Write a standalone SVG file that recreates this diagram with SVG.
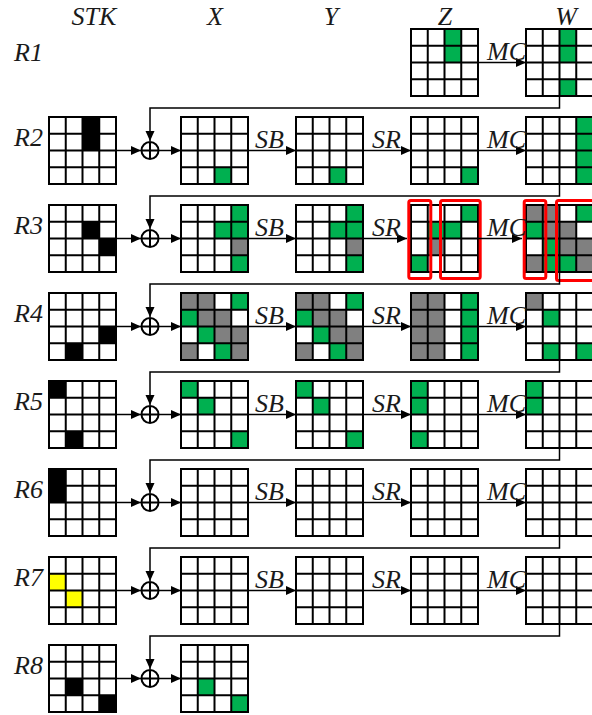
<svg xmlns="http://www.w3.org/2000/svg" width="592" height="715" viewBox="0 0 592 715">
<style>
.gl{fill:none;stroke:#000;stroke-width:2}
.g{fill:#00b050}.k{fill:#000}.s{fill:#808080}.y{fill:#ffff00}
.ln{fill:none;stroke:#000;stroke-width:1.5}
.ar{marker-end:url(#ah)}
.lab{fill:#1a1a1a}
.red{fill:none;stroke:#ff0000;stroke-width:3}
</style>
<defs>
<path id="grid" class="gl" d="M0,0H67V67H0Z M16.75,0V67 M33.5,0V67 M50.25,0V67 M0,16.75H67 M0,33.5H67 M0,50.25H67"/>
<marker id="ah" markerUnits="userSpaceOnUse" markerWidth="11" markerHeight="10" refX="10" refY="4.5" orient="auto"><path d="M0,0L10,4.5L0,9Z" fill="#000"/></marker>
</defs>
<rect width="592" height="715" fill="#fff"/>

<g id="headers" class="lab" text-anchor="middle">
<text x="94" y="25" font-family="Liberation Serif" font-style="italic" font-size="26">STK</text>
<text x="215" y="25" font-family="Liberation Serif" font-style="italic" font-size="26">X</text>
<text x="331" y="25" font-family="Liberation Serif" font-style="italic" font-size="26">Y</text>
<text x="445" y="25" font-family="Liberation Serif" font-style="italic" font-size="26">Z</text>
<text x="566" y="25" font-family="Liberation Serif" font-style="italic" font-size="26">W</text>
</g>
<g id="rowlabels" class="lab" text-anchor="end">
<text x="43" y="61" font-family="Liberation Serif" font-style="italic" font-size="26">R1</text>
<text x="43" y="146" font-family="Liberation Serif" font-style="italic" font-size="26">R2</text>
<text x="43" y="234" font-family="Liberation Serif" font-style="italic" font-size="26">R3</text>
<text x="43" y="322" font-family="Liberation Serif" font-style="italic" font-size="26">R4</text>
<text x="43" y="410" font-family="Liberation Serif" font-style="italic" font-size="26">R5</text>
<text x="43" y="498" font-family="Liberation Serif" font-style="italic" font-size="26">R6</text>
<text x="43" y="586" font-family="Liberation Serif" font-style="italic" font-size="26">R7</text>
<text x="43" y="674" font-family="Liberation Serif" font-style="italic" font-size="26">R8</text>
</g>

<!-- R1 -->
<g id="r1-z" transform="translate(411,29)"><rect class="g" x="33.5" y="0" width="16.75" height="33.5"/><use href="#grid"/></g>
<g id="r1-w" transform="translate(526,29)"><rect class="g" x="33.5" y="0" width="16.75" height="33.5"/><rect class="g" x="33.5" y="50.25" width="16.75" height="16.75"/><use href="#grid"/></g>

<!-- R2 -->
<g id="r2-stk" transform="translate(49,117)"><rect class="k" x="33.5" y="0" width="16.75" height="33.5"/><use href="#grid"/></g>
<g id="r2-x" transform="translate(181,117)"><rect class="g" x="33.5" y="50.25" width="16.75" height="16.75"/><use href="#grid"/></g>
<g id="r2-y" transform="translate(296,117)"><rect class="g" x="33.5" y="50.25" width="16.75" height="16.75"/><use href="#grid"/></g>
<g id="r2-z" transform="translate(411,117)"><rect class="g" x="50.25" y="50.25" width="16.75" height="16.75"/><use href="#grid"/></g>
<g id="r2-w" transform="translate(526,117)"><rect class="g" x="50.25" y="0" width="16.75" height="67"/><use href="#grid"/></g>

<!-- R3 -->
<g id="r3-stk" transform="translate(49,205)"><rect class="k" x="33.5" y="16.75" width="16.75" height="16.75"/><rect class="k" x="50.25" y="33.5" width="16.75" height="16.75"/><use href="#grid"/></g>
<g id="r3-x" transform="translate(181,205)"><rect class="g" x="50.25" y="0" width="16.75" height="33.5"/><rect class="g" x="33.5" y="16.75" width="16.75" height="16.75"/><rect class="s" x="50.25" y="33.5" width="16.75" height="16.75"/><rect class="g" x="50.25" y="50.25" width="16.75" height="16.75"/><use href="#grid"/></g>
<g id="r3-y" transform="translate(296,205)"><rect class="g" x="50.25" y="0" width="16.75" height="33.5"/><rect class="g" x="33.5" y="16.75" width="16.75" height="16.75"/><rect class="s" x="50.25" y="33.5" width="16.75" height="16.75"/><rect class="g" x="50.25" y="50.25" width="16.75" height="16.75"/><use href="#grid"/></g>
<g id="r3-z" transform="translate(411,205)"><rect class="g" x="50.25" y="0" width="16.75" height="16.75"/><rect class="g" x="16.75" y="16.75" width="33.5" height="16.75"/><rect class="s" x="16.75" y="33.5" width="16.75" height="16.75"/><rect class="g" x="0" y="50.25" width="16.75" height="16.75"/><use href="#grid"/></g>
<g id="r3-w" transform="translate(526,205)">
<rect class="s" x="0" y="0" width="33.5" height="16.75"/><rect class="g" x="50.25" y="0" width="16.75" height="16.75"/>
<rect class="g" x="0" y="16.75" width="16.75" height="16.75"/><rect class="s" x="16.75" y="16.75" width="33.5" height="16.75"/>
<rect class="g" x="16.75" y="33.5" width="16.75" height="16.75"/><rect class="s" x="33.5" y="33.5" width="33.5" height="16.75"/>
<rect class="s" x="0" y="50.25" width="16.75" height="16.75"/><rect class="g" x="16.75" y="50.25" width="33.5" height="16.75"/><rect class="s" x="50.25" y="50.25" width="16.75" height="16.75"/>
<use href="#grid"/></g>
<g id="r3-marks">
<rect class="red" x="408.8" y="200.5" width="22" height="78" rx="2"/>
<rect class="red" x="440.5" y="200.5" width="39.7" height="78" rx="2"/>
<rect class="red" x="524.2" y="200.5" width="21.6" height="78" rx="2"/>
<rect class="red" x="556.5" y="200.5" width="50" height="80" rx="2"/>
</g>

<!-- R4 -->
<g id="r4-stk" transform="translate(49,293)"><rect class="k" x="50.25" y="33.5" width="16.75" height="16.75"/><rect class="k" x="16.75" y="50.25" width="16.75" height="16.75"/><use href="#grid"/></g>
<g id="r4-x" transform="translate(181,293)">
<rect class="s" x="0" y="0" width="33.5" height="16.75"/><rect class="g" x="50.25" y="0" width="16.75" height="16.75"/>
<rect class="g" x="0" y="16.75" width="16.75" height="16.75"/><rect class="s" x="16.75" y="16.75" width="33.5" height="16.75"/>
<rect class="g" x="16.75" y="33.5" width="16.75" height="16.75"/><rect class="s" x="33.5" y="33.5" width="33.5" height="16.75"/>
<rect class="s" x="0" y="50.25" width="16.75" height="16.75"/><rect class="g" x="33.5" y="50.25" width="16.75" height="16.75"/><rect class="s" x="50.25" y="50.25" width="16.75" height="16.75"/>
<use href="#grid"/></g>
<g id="r4-y" transform="translate(296,293)">
<rect class="s" x="0" y="0" width="33.5" height="16.75"/><rect class="g" x="50.25" y="0" width="16.75" height="16.75"/>
<rect class="g" x="0" y="16.75" width="16.75" height="16.75"/><rect class="s" x="16.75" y="16.75" width="33.5" height="16.75"/>
<rect class="g" x="16.75" y="33.5" width="16.75" height="16.75"/><rect class="s" x="33.5" y="33.5" width="33.5" height="16.75"/>
<rect class="s" x="0" y="50.25" width="16.75" height="16.75"/><rect class="g" x="33.5" y="50.25" width="16.75" height="16.75"/><rect class="s" x="50.25" y="50.25" width="16.75" height="16.75"/>
<use href="#grid"/></g>
<g id="r4-z" transform="translate(411,293)"><rect class="s" x="0" y="0" width="33.5" height="67"/><rect class="g" x="50.25" y="0" width="16.75" height="67"/><use href="#grid"/></g>
<g id="r4-w" transform="translate(526,293)"><rect class="s" x="0" y="0" width="16.75" height="16.75"/><rect class="g" x="16.75" y="16.75" width="16.75" height="16.75"/><rect class="g" x="16.75" y="50.25" width="16.75" height="16.75"/><rect class="g" x="50.25" y="50.25" width="16.75" height="16.75"/><use href="#grid"/></g>

<!-- R5 -->
<g id="r5-stk" transform="translate(49,381)"><rect class="k" x="0" y="0" width="16.75" height="16.75"/><rect class="k" x="16.75" y="50.25" width="16.75" height="16.75"/><use href="#grid"/></g>
<g id="r5-x" transform="translate(181,381)"><rect class="g" x="0" y="0" width="16.75" height="16.75"/><rect class="g" x="16.75" y="16.75" width="16.75" height="16.75"/><rect class="g" x="50.25" y="50.25" width="16.75" height="16.75"/><use href="#grid"/></g>
<g id="r5-y" transform="translate(296,381)"><rect class="g" x="0" y="0" width="16.75" height="16.75"/><rect class="g" x="16.75" y="16.75" width="16.75" height="16.75"/><rect class="g" x="50.25" y="50.25" width="16.75" height="16.75"/><use href="#grid"/></g>
<g id="r5-z" transform="translate(411,381)"><rect class="g" x="0" y="0" width="16.75" height="33.5"/><rect class="g" x="0" y="50.25" width="16.75" height="16.75"/><use href="#grid"/></g>
<g id="r5-w" transform="translate(526,381)"><rect class="g" x="0" y="0" width="16.75" height="33.5"/><use href="#grid"/></g>

<!-- R6 -->
<g id="r6-stk" transform="translate(49,469)"><rect class="k" x="0" y="0" width="16.75" height="33.5"/><use href="#grid"/></g>
<g id="r6-x" transform="translate(181,469)"><use href="#grid"/></g>
<g id="r6-y" transform="translate(296,469)"><use href="#grid"/></g>
<g id="r6-z" transform="translate(411,469)"><use href="#grid"/></g>
<g id="r6-w" transform="translate(526,469)"><use href="#grid"/></g>

<!-- R7 -->
<g id="r7-stk" transform="translate(49,557)"><rect class="y" x="0" y="16.75" width="16.75" height="16.75"/><rect class="y" x="16.75" y="33.5" width="16.75" height="16.75"/><use href="#grid"/></g>
<g id="r7-x" transform="translate(181,557)"><use href="#grid"/></g>
<g id="r7-y" transform="translate(296,557)"><use href="#grid"/></g>
<g id="r7-z" transform="translate(411,557)"><use href="#grid"/></g>
<g id="r7-w" transform="translate(526,557)"><use href="#grid"/></g>

<!-- R8 -->
<g id="r8-stk" transform="translate(49,645)"><rect class="k" x="16.75" y="33.5" width="16.75" height="16.75"/><rect class="k" x="50.25" y="50.25" width="16.75" height="16.75"/><use href="#grid"/></g>
<g id="r8-x" transform="translate(181,645)"><rect class="g" x="16.75" y="33.5" width="16.75" height="16.75"/><rect class="g" x="50.25" y="50.25" width="16.75" height="16.75"/><use href="#grid"/></g>

<!-- XOR nodes -->
<g id="xor-nodes" class="gl">
<g id="xor2"><circle cx="150" cy="150.5" r="8.5"/><path d="M141.5,150.5H158.5M150,142V159"/></g>
<g id="xor3"><circle cx="150" cy="238.5" r="8.5"/><path d="M141.5,238.5H158.5M150,230V247"/></g>
<g id="xor4"><circle cx="150" cy="326.5" r="8.5"/><path d="M141.5,326.5H158.5M150,318V335"/></g>
<g id="xor5"><circle cx="150" cy="414.5" r="8.5"/><path d="M141.5,414.5H158.5M150,406V423"/></g>
<g id="xor6"><circle cx="150" cy="502.5" r="8.5"/><path d="M141.5,502.5H158.5M150,494V511"/></g>
<g id="xor7"><circle cx="150" cy="590.5" r="8.5"/><path d="M141.5,590.5H158.5M150,582V599"/></g>
<g id="xor8"><circle cx="150" cy="678.5" r="8.5"/><path d="M141.5,678.5H158.5M150,670V687"/></g>
</g>

<!-- connectors -->
<g id="connectors" class="ln">
<path class="ar" d="M478,62.5H526"/>
<path class="ar" d="M559.5,96V108H150V141"/>
<path class="ar" d="M559.5,184V196H150V229"/>
<path class="ar" d="M559.5,272V284H150V317"/>
<path class="ar" d="M559.5,360V372H150V405"/>
<path class="ar" d="M559.5,448V460H150V493"/>
<path class="ar" d="M559.5,536V548H150V581"/>
<path class="ar" d="M559.5,624V636H150V669"/>

<path class="ar" d="M116,150.5H141"/><path class="ar" d="M159,150.5H181"/>
<path class="ar" d="M248,150.5H296"/><path class="ar" d="M363,150.5H411"/><path class="ar" d="M478,150.5H526"/>
<path class="ar" d="M116,238.5H141"/><path class="ar" d="M159,238.5H181"/>
<path class="ar" d="M248,238.5H296"/><path class="ar" d="M363,238.5H407"/><path class="ar" d="M478,238.5H522"/>
<path class="ar" d="M116,326.5H141"/><path class="ar" d="M159,326.5H181"/>
<path class="ar" d="M248,326.5H296"/><path class="ar" d="M363,326.5H411"/><path class="ar" d="M478,326.5H526"/>
<path class="ar" d="M116,414.5H141"/><path class="ar" d="M159,414.5H181"/>
<path class="ar" d="M248,414.5H296"/><path class="ar" d="M363,414.5H411"/><path class="ar" d="M478,414.5H526"/>
<path class="ar" d="M116,502.5H141"/><path class="ar" d="M159,502.5H181"/>
<path class="ar" d="M248,502.5H296"/><path class="ar" d="M363,502.5H411"/><path class="ar" d="M478,502.5H526"/>
<path class="ar" d="M116,590.5H141"/><path class="ar" d="M159,590.5H181"/>
<path class="ar" d="M248,590.5H296"/><path class="ar" d="M363,590.5H411"/><path class="ar" d="M478,590.5H526"/>
<path class="ar" d="M116,678.5H141"/><path class="ar" d="M159,678.5H181"/>
</g>

<!-- operation labels -->
<g id="op-labels" class="lab" font-family="Liberation Serif" font-style="italic" font-size="26">
<text x="487" y="59.5" font-family="Liberation Serif">MC</text>
<text x="255" y="147.5" font-family="Liberation Serif">SB</text><text x="372" y="147.5" font-family="Liberation Serif">SR</text><text x="487" y="147.5" font-family="Liberation Serif">MC</text>
<text x="255" y="235.5" font-family="Liberation Serif">SB</text><text x="372" y="235.5" font-family="Liberation Serif">SR</text><text x="487" y="235.5" font-family="Liberation Serif">MC</text>
<text x="255" y="323.5" font-family="Liberation Serif">SB</text><text x="372" y="323.5" font-family="Liberation Serif">SR</text><text x="487" y="323.5" font-family="Liberation Serif">MC</text>
<text x="255" y="411.5" font-family="Liberation Serif">SB</text><text x="372" y="411.5" font-family="Liberation Serif">SR</text><text x="487" y="411.5" font-family="Liberation Serif">MC</text>
<text x="255" y="499.5" font-family="Liberation Serif">SB</text><text x="372" y="499.5" font-family="Liberation Serif">SR</text><text x="487" y="499.5" font-family="Liberation Serif">MC</text>
<text x="255" y="587.5" font-family="Liberation Serif">SB</text><text x="372" y="587.5" font-family="Liberation Serif">SR</text><text x="487" y="587.5" font-family="Liberation Serif">MC</text>
</g>
</svg>
